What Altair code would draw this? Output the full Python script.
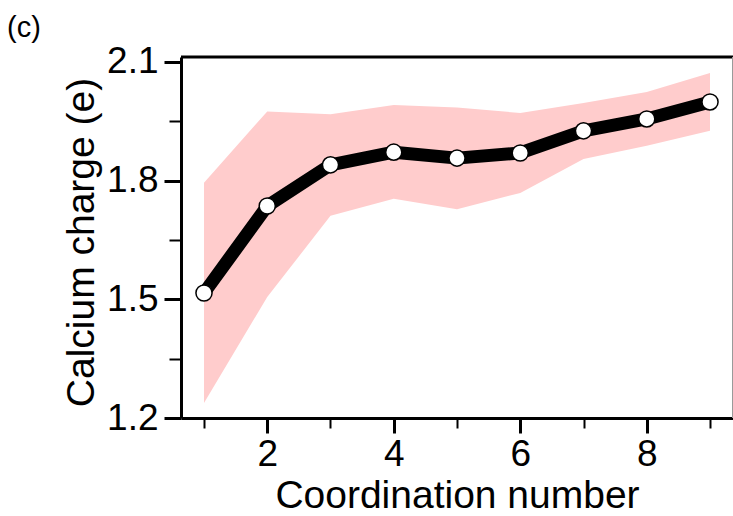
import altair as alt
import pandas as pd

# ---- data ----
coordination = [1, 2, 3, 4, 5, 6, 7, 8, 9]
charge = [1.516, 1.736, 1.840, 1.872, 1.857, 1.870, 1.926, 1.956, 1.999]
upper = [1.795, 1.975, 1.968, 1.991, 1.985, 1.971, 1.996, 2.024, 2.072]
lower = [1.238, 1.506, 1.711, 1.754, 1.728, 1.769, 1.855, 1.888, 1.926]

x_ticks = [1, 2, 3, 4, 5, 6, 7, 8, 9]
y_ticks = [1.2, 1.275, 1.35, 1.425, 1.5, 1.575, 1.65, 1.725, 1.8, 1.875, 1.95, 2.025, 2.1]

df = pd.DataFrame({"cn": coordination, "charge": charge, "upper": upper, "lower": lower})

FONT = "Liberation Sans"
W, H = 552, 361

xscale = alt.Scale(domain=[0.6364, 9.3636], nice=False, zero=False)
yscale = alt.Scale(domain=[1.2, 2.1126], nice=False, zero=False)

x_major = "datum.value % 2 == 0"
y_major = "abs(datum.value * 10 - round(datum.value * 10)) < 0.001"

xaxis = alt.Axis(
    values=x_ticks,
    title="Coordination number",
    labelExpr=f"{x_major} ? format(datum.value, 'd') : ''",
    tickSize={"condition": {"test": x_major, "value": 15}, "value": 10},
    tickWidth={"condition": {"test": x_major, "value": 3}, "value": 2},
    tickColor="black",
    domainColor="black",
    domainWidth=3,
    grid=False,
    labelFont=FONT,
    labelFontSize=37,
    labelColor="black",
    labelPadding=3,
    labelFlush=False,
    titleFont=FONT,
    titleFontSize=39,
    titleFontWeight="normal",
    titleColor="black",
    titleY=89,
    titleBaseline="alphabetic",
)

yaxis = alt.Axis(
    values=y_ticks,
    title="Calcium charge (e)",
    labelExpr=f"{y_major} ? format(datum.value, '.1f') : ''",
    tickSize={"condition": {"test": y_major, "value": 17}, "value": 12},
    tickWidth={"condition": {"test": y_major, "value": 3}, "value": 2},
    tickColor="black",
    domainColor="black",
    domainWidth=3,
    grid=False,
    labelFont=FONT,
    labelFontSize=37,
    labelColor="black",
    labelPadding=6,
    labelFlush=False,
    titleFont=FONT,
    titleFontSize=39,
    titleFontWeight="normal",
    titleColor="black",
    titleX=-88,
    titleY=185,
    titleAngle=270,
    titleAlign="center",
    titleBaseline="alphabetic",
)

band = alt.Chart(df).mark_area(color="#ffcccc", opacity=1).encode(
    x=alt.X("cn:Q", scale=xscale, axis=xaxis),
    y=alt.Y("lower:Q", scale=yscale, axis=yaxis),
    y2="upper:Q",
)

line = alt.Chart(df).mark_line(color="black", strokeWidth=13, strokeJoin="round").encode(
    x=alt.X("cn:Q", scale=xscale),
    y=alt.Y("charge:Q", scale=yscale),
)

pts = alt.Chart(df).mark_circle(
    color="white", stroke="black", strokeWidth=1.5, size=260, opacity=1
).encode(
    x=alt.X("cn:Q", scale=xscale),
    y=alt.Y("charge:Q", scale=yscale),
)

one = pd.DataFrame({"t": ["(c)"]})

top_frame = alt.Chart(one).mark_rule(color="black", strokeWidth=3).encode(
    x=alt.value(0), x2=alt.value(W), y=alt.value(0)
)
right_frame = alt.Chart(one).mark_rule(color="#9a9a9a", strokeWidth=1).encode(
    x=alt.value(W - 0.5), y=alt.value(0), y2=alt.value(H)
)

panel_label = alt.Chart(one).mark_text(
    align="left", baseline="alphabetic", fontSize=29, font=FONT, color="black"
).encode(x=alt.value(-174), y=alt.value(-20), text="t:N")

chart = (
    alt.layer(band, line, pts, top_frame, right_frame, panel_label)
    .properties(
        width=W,
        height=H,
        autosize="none",
        padding={"left": 181, "top": 57, "right": 0, "bottom": 98},
        background="white",
    )
    .configure_view(stroke=None)
)

chart.save("out.html", embed_options={"renderer": "svg", "actions": False})
